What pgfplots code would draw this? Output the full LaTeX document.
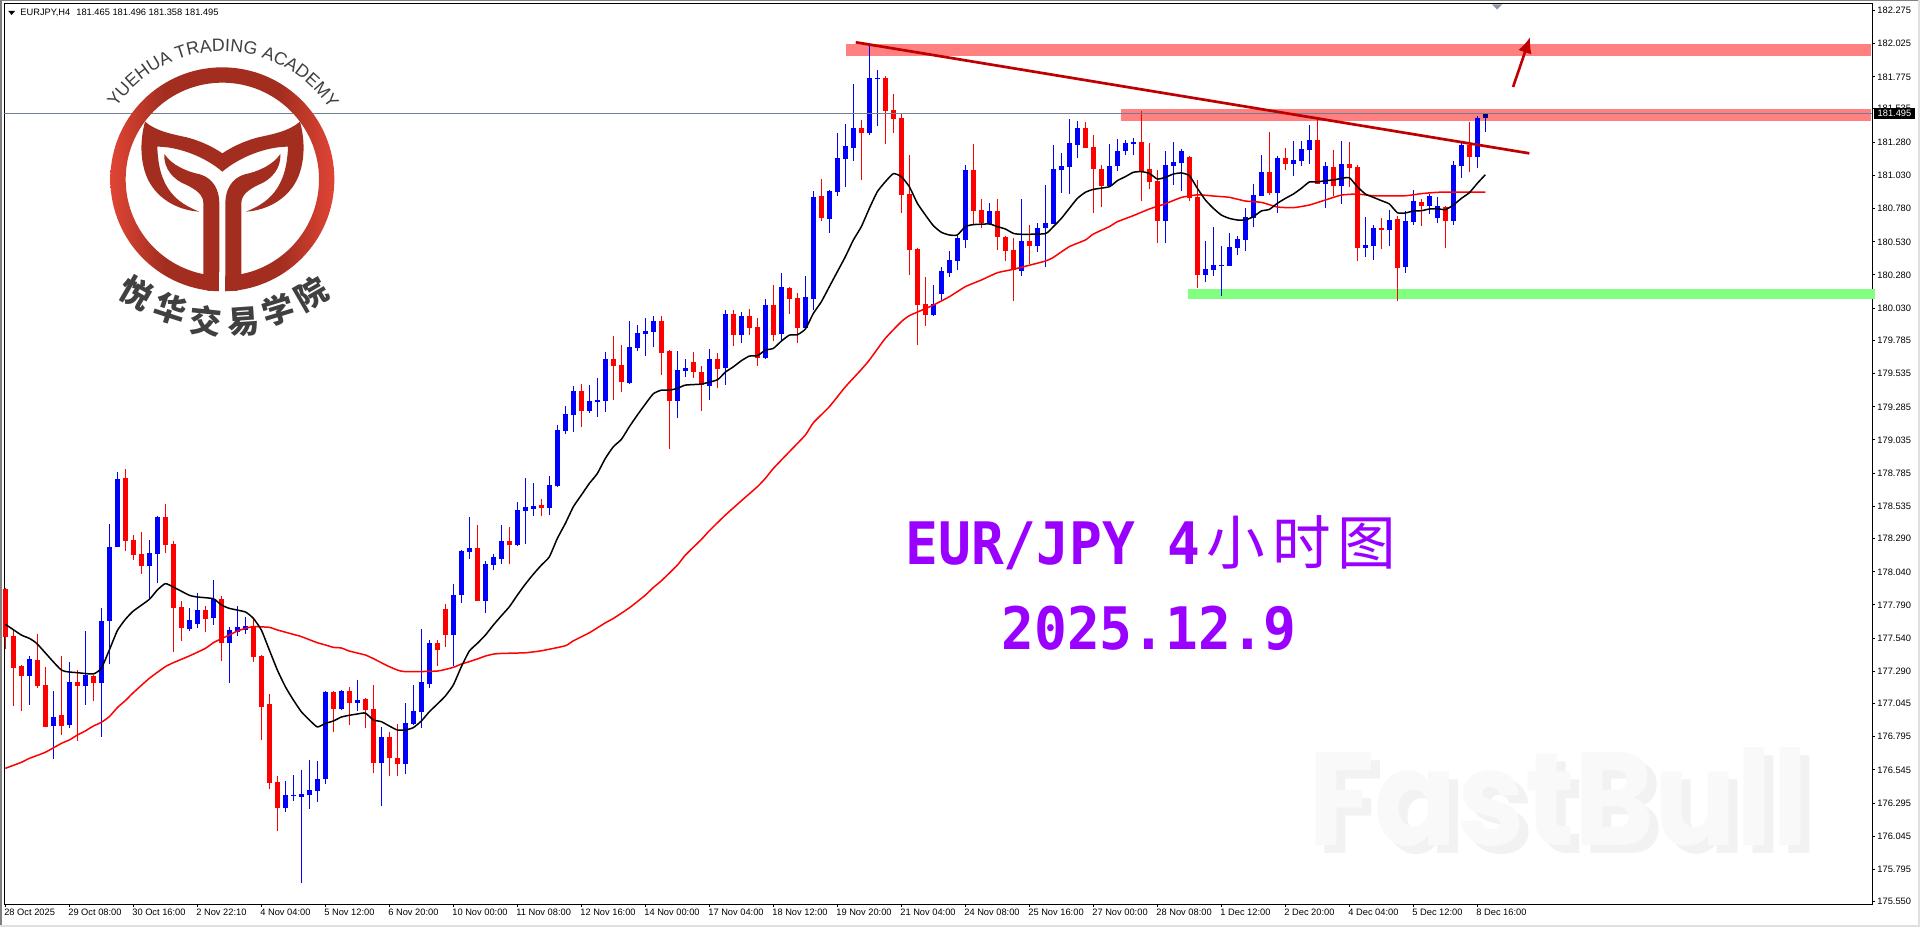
\documentclass[border=0pt]{standalone}
\usepackage{fontspec}
\usepackage{pgfplots}
\usepackage{pgfplotstable}
\pgfplotsset{compat=1.18}
\usetikzlibrary{decorations.text,arrows.meta}
\setmainfont{Liberation Sans}
\newfontfamily\cjk{Noto Sans CJK SC}
\newfontfamily\bigmono[FakeStretch=0.93]{DejaVu Sans Mono}
\newfontfamily\fb[FakeStretch=0.92]{Poppins}
\definecolor{upc}{HTML}{0000FF}
\definecolor{dnc}{HTML}{FF0000}
\definecolor{bandr}{HTML}{FF8080}
\definecolor{bandg}{HTML}{80FF80}
\definecolor{trend}{HTML}{C00000}
\definecolor{pline}{HTML}{708090}
\definecolor{logoD}{HTML}{A32E20}
\definecolor{logoL}{HTML}{E04535}
\definecolor{logoT}{HTML}{404040}
\definecolor{purp}{HTML}{9900FF}
\definecolor{navyc}{HTML}{000080}
\pgfdeclarehorizontalshading{logoring}{100bp}{color(0bp)=(logoL); color(25bp)=(logoL); color(37bp)=(logoD); color(63bp)=(logoD); color(75bp)=(logoL); color(100bp)=(logoL)}

\pgfplotstableread{
i o h l c
3 177.256 177.405 177.035 177.382
6 176.879 177.140 176.630 176.944
8 176.884 177.359 176.864 177.208
10 177.178 177.593 177.035 177.261
12 177.203 177.767 176.796 177.669
13 177.669 178.401 177.344 178.227
14 178.227 178.793 178.227 178.741
18 178.084 178.280 177.840 178.182
19 178.175 178.461 177.953 178.454
23 177.608 177.767 177.593 177.676
24 177.646 177.878 177.616 177.752
26 177.691 177.978 177.639 177.835
28 177.503 177.624 177.201 177.601
29 177.586 177.782 177.556 177.624
30 177.601 177.702 177.571 177.631
35 176.257 176.461 176.227 176.355
36 176.348 176.506 176.310 176.355
37 176.340 176.544 175.691 176.363
38 176.355 176.620 176.250 176.393
39 176.386 176.612 176.303 176.476
40 176.476 177.138 176.438 177.133
42 177.005 177.148 176.997 177.140
44 177.050 177.223 176.990 177.073
47 176.597 176.869 176.272 176.793
50 176.589 177.050 176.514 176.899
51 176.891 177.186 176.884 176.990
52 176.982 177.608 176.861 177.208
53 177.193 177.525 177.163 177.503
56 177.563 177.948 177.329 177.865
57 177.865 178.205 177.805 178.197
58 178.190 178.454 178.137 178.220
60 177.819 178.121 177.728 178.098
61 178.090 178.173 178.053 178.151
62 178.136 178.392 178.098 178.272
64 178.241 178.566 178.234 178.506
65 178.498 178.747 178.249 178.528
66 178.513 178.709 178.460 178.536
68 178.521 178.762 178.468 178.694
69 178.687 179.147 178.679 179.109
70 179.102 179.291 179.079 179.230
71 179.223 179.442 179.094 179.404
73 179.253 179.449 179.238 179.328
74 179.321 179.502 179.208 179.336
75 179.328 179.698 179.245 179.645
78 179.464 179.932 179.457 179.736
79 179.728 179.902 179.706 179.842
80 179.834 179.955 179.668 179.857
81 179.849 179.970 179.736 179.932
84 179.328 179.706 179.200 179.562
85 179.555 179.645 179.509 179.577
88 179.442 179.721 179.336 179.645
90 179.577 180.015 179.449 179.985
92 179.826 180.000 179.766 179.970
95 179.653 180.098 179.645 180.053
97 179.834 180.294 179.789 180.189
100 179.879 180.272 179.864 180.113
101 180.099 180.914 180.016 180.868
103 180.702 180.920 180.597 180.914
104 180.906 181.352 180.876 181.163
105 181.155 181.419 180.944 181.253
106 181.238 181.721 181.140 181.389
108 181.352 182.008 181.336 181.767
109 181.759 181.827 181.404 181.767
116 179.978 180.204 179.970 180.061
117 180.136 180.340 180.091 180.310
118 180.295 180.461 180.265 180.393
119 180.385 180.574 180.317 180.559
120 180.544 181.110 180.484 181.072
123 180.665 180.823 180.657 180.763
127 180.310 180.853 180.272 180.536
129 180.499 180.672 180.453 180.635
130 180.635 180.959 180.340 180.672
131 180.665 181.261 180.665 181.080
132 181.072 181.201 180.899 181.102
133 181.095 181.457 180.891 181.276
134 181.261 181.442 181.163 181.389
138 180.952 181.269 180.944 181.102
139 181.102 181.306 181.065 181.216
140 181.216 181.299 181.185 181.276
141 181.269 181.314 181.185 181.284
145 180.687 181.216 180.521 181.110
146 181.102 181.284 180.959 181.133
147 181.125 181.231 180.914 181.216
150 180.280 180.536 180.227 180.325
151 180.317 180.642 180.272 180.355
152 180.348 180.499 180.121 180.355
153 180.348 180.597 180.348 180.491
154 180.483 180.574 180.431 180.551
155 180.544 180.785 180.461 180.717
156 180.710 180.966 180.642 180.883
157 180.876 181.185 180.876 181.057
159 180.899 181.178 180.748 181.163
161 181.117 181.291 181.027 181.148
162 181.140 181.291 181.102 181.231
163 181.223 181.412 181.117 181.299
165 180.966 181.133 180.785 181.102
167 180.951 181.291 180.816 181.117
170 180.483 180.717 180.415 180.506
171 180.499 180.657 180.393 180.634
173 180.619 180.770 180.499 180.695
175 180.340 180.763 180.295 180.687
176 180.680 180.921 180.657 180.838
178 180.800 180.891 180.740 180.876
179 180.710 180.868 180.672 180.800
181 180.687 181.140 180.657 181.110
182 181.102 181.284 181.012 181.261
184 181.170 181.480 181.087 181.465
}\upbars

\pgfplotstableread{
i o h l c
185 181.465 181.496 181.358 181.495
}\lastbar

\pgfplotstableread{
i o h l c
0 177.910 177.920 177.457 177.551
1 177.556 177.601 177.030 177.317
2 177.329 177.335 176.992 177.256
4 177.374 177.571 177.161 177.181
5 177.186 177.319 176.866 176.871
7 176.959 177.405 176.808 176.879
9 177.208 177.299 176.766 177.178
11 177.254 177.261 177.065 177.203
15 178.748 178.816 178.197 178.275
16 178.280 178.318 178.129 178.167
17 178.175 178.341 178.024 178.084
20 178.454 178.552 178.180 178.242
21 178.250 178.273 177.435 177.767
22 177.774 177.817 177.518 177.616
25 177.752 177.782 177.586 177.684
27 177.835 177.858 177.367 177.503
31 177.631 177.689 177.359 177.397
32 177.405 177.410 176.771 177.020
33 177.042 177.118 176.401 176.446
34 176.454 176.499 176.084 176.257
41 177.133 177.140 176.831 177.005
43 177.140 177.171 176.884 177.050
45 177.080 177.085 176.861 176.997
46 177.005 177.186 176.519 176.597
48 176.793 176.831 176.499 176.635
49 176.635 176.891 176.499 176.589
54 177.503 177.525 177.329 177.450
55 177.759 177.797 177.473 177.563
59 178.220 178.393 177.820 177.820
63 178.272 178.377 178.098 178.241
67 178.543 178.589 178.460 178.521
72 179.404 179.457 179.132 179.253
76 179.645 179.819 179.336 179.592
77 179.600 179.751 179.396 179.472
82 179.932 179.970 179.525 179.691
83 179.706 179.711 178.966 179.328
86 179.623 179.698 179.502 179.547
87 179.547 179.592 179.253 179.449
89 179.645 179.691 179.426 179.570
91 179.985 180.015 179.743 179.826
93 179.970 180.023 179.826 179.879
94 179.887 179.955 179.592 179.653
96 180.053 180.204 179.781 179.826
98 180.181 180.189 179.985 180.098
99 180.106 180.143 179.766 179.879
102 180.876 181.004 180.687 180.710
107 181.389 181.450 180.997 181.352
110 181.767 181.782 181.269 181.518
111 181.525 181.646 181.352 181.457
112 181.465 181.503 180.748 180.884
113 180.891 181.185 180.280 180.468
114 180.476 180.480 179.751 180.053
115 180.061 180.265 179.895 179.978
121 181.072 181.269 180.657 180.763
122 180.770 180.853 180.635 180.672
124 180.763 180.853 180.468 180.567
125 180.567 180.575 180.385 180.461
126 180.468 180.559 180.084 180.317
128 180.536 180.657 180.363 180.499
135 181.389 181.435 181.238 181.238
136 181.246 181.336 180.748 181.080
137 181.080 181.110 180.793 180.952
142 181.284 181.518 180.838 181.065
143 181.080 181.276 180.929 180.982
144 180.989 181.072 180.521 180.687
148 181.170 181.175 180.838 180.861
149 180.868 180.997 180.182 180.280
158 181.057 181.359 180.883 180.899
160 181.163 181.238 181.072 181.117
164 181.299 181.457 180.966 180.966
166 181.095 181.223 180.876 180.951
168 181.117 181.284 180.944 181.087
169 181.095 181.110 180.385 180.483
172 180.634 180.710 180.476 180.619
174 180.702 180.725 180.083 180.332
177 180.831 180.853 180.650 180.800
180 180.793 180.800 180.483 180.687
183 181.261 181.434 181.057 181.170
}\dnbars

\pgfplotstableread{
i y
0 177.644
2 177.563
3 177.538
4 177.495
7 177.299
9 177.279
11 177.269
12 177.312
13 177.450
14 177.596
15 177.681
16 177.744
18 177.832
19 177.903
20 177.951
21 177.925
23 177.863
24 177.850
26 177.837
27 177.790
28 177.764
30 177.737
31 177.689
32 177.601
33 177.450
34 177.299
35 177.173
36 177.073
37 176.984
38 176.922
39 176.869
40 176.896
41 176.914
42 176.944
43 176.957
44 176.967
45 176.974
46 176.922
47 176.909
48 176.876
49 176.846
50 176.846
51 176.864
52 176.914
53 176.984
54 177.042
55 177.103
56 177.186
57 177.324
58 177.442
59 177.500
60 177.562
61 177.638
62 177.708
63 177.776
64 177.864
65 177.947
66 178.022
67 178.090
68 178.153
69 178.292
70 178.405
71 178.531
72 178.619
73 178.707
74 178.782
75 178.896
76 178.984
77 179.039
78 179.135
79 179.223
80 179.306
81 179.384
82 179.411
83 179.411
84 179.424
85 179.449
87 179.457
89 179.489
90 179.547
91 179.587
92 179.633
93 179.668
94 179.670
95 179.713
96 179.726
97 179.781
98 179.826
99 179.829
100 179.872
101 179.990
102 180.078
103 180.192
104 180.305
105 180.418
106 180.544
107 180.645
108 180.783
109 180.909
110 180.984
111 181.045
112 181.022
113 180.946
114 180.821
115 180.733
116 180.652
117 180.602
118 180.582
119 180.582
120 180.645
121 180.660
123 180.665
124 180.645
125 180.627
126 180.594
127 180.587
130 180.592
131 180.645
132 180.707
133 180.783
134 180.858
135 180.904
136 180.926
138 180.946
139 180.992
140 181.022
141 181.055
142 181.060
143 181.047
144 181.004
145 181.017
146 181.042
147 181.050
148 181.030
149 180.934
150 180.846
151 180.783
152 180.732
153 180.707
154 180.695
155 180.695
156 180.720
157 180.763
158 180.775
159 180.821
160 180.858
161 180.891
162 180.934
163 180.982
164 180.982
165 180.992
166 180.997
167 181.009
168 181.014
169 180.946
170 180.891
171 180.866
172 180.841
173 180.816
174 180.750
175 180.748
176 180.763
177 180.765
178 180.778
179 180.780
180 180.773
181 180.808
182 180.858
183 180.901
184 180.972
185 181.037
}\maFast

\pgfplotstableread{
i y
0 176.557
2 176.602
3 176.632
5 176.678
7 176.745
8 176.771
9 176.808
10 176.839
11 176.876
12 176.904
13 176.947
14 177.015
15 177.068
16 177.128
18 177.236
20 177.324
21 177.354
23 177.405
25 177.462
26 177.505
27 177.535
28 177.563
29 177.593
30 177.613
31 177.626
33 177.621
34 177.601
36 177.568
37 177.551
39 177.505
40 177.488
41 177.470
42 177.465
43 177.442
45 177.412
46 177.385
47 177.354
48 177.324
49 177.299
50 177.286
54 177.291
56 177.319
57 177.344
58 177.362
59 177.382
60 177.404
61 177.419
62 177.424
65 177.429
67 177.444
70 177.482
71 177.519
73 177.580
75 177.655
76 177.688
78 177.768
80 177.864
81 177.922
82 177.972
84 178.090
85 178.166
87 178.284
88 178.350
90 178.468
92 178.576
94 178.682
95 178.745
96 178.820
98 178.946
100 179.072
101 179.165
103 179.286
105 179.436
107 179.567
108 179.638
110 179.802
112 179.928
113 179.973
115 180.026
116 180.053
118 180.116
120 180.192
122 180.242
124 180.297
126 180.323
130 180.385
131 180.413
133 180.494
135 180.544
136 180.589
138 180.645
139 180.682
141 180.728
143 180.778
145 180.818
147 180.865
149 180.885
151 180.876
153 180.866
155 180.838
157 180.828
159 180.793
161 180.788
163 180.808
165 180.846
167 180.883
169 180.891
171 180.878
175 180.878
177 180.894
179 180.904
181 180.906
185 180.906
}\maSlow

\begin{document}
\begin{tikzpicture}
\path[use as bounding box,fill=white] (0,0) rectangle (960pt,463.5pt);
% window edges
\fill[black!50] (0,0) rectangle (0.8pt,463.5pt);
\fill[black!50] (0,463pt) rectangle (960pt,463.5pt);
\fill[black!12] (958.8pt,0) rectangle (960pt,463.5pt);
\fill[black!12] (0,0) rectangle (960pt,1.2pt);

% FastBull watermark
\begin{scope}[x=0.5pt,y=-0.5pt,yshift=463.5pt]
\node[anchor=base west,inner sep=0pt,text=black!5,font={\fb\bfseries\fontsize{66pt}{66pt}\selectfont}] at (1317,853) {FastBull};
\node[anchor=base west,inner sep=0pt,text=black!2.5,font={\fb\bfseries\fontsize{66pt}{66pt}\selectfont}] at (1308,845) {FastBull};
\end{scope}

\begin{axis}[
  at={(2pt,11.5pt)},anchor=south west,
  scale only axis,width=934pt,height=450pt,
  xmin=-0.166,xmax=233.33,ymin=175.533,ymax=182.325,
  clip=false,
  axis line style={line width=0.5pt,black},
  tick style={line width=0.5pt,black},
  tick align=outside,major tick length=1.5pt,
  xtick pos=bottom,ytick pos=right,yticklabel pos=right,
  xtick={0,8,...,184},
  xticklabels={28 Oct 2025,29 Oct 08:00,30 Oct 16:00,2 Nov 22:10,4 Nov 04:00,5 Nov 12:00,6 Nov 20:00,10 Nov 00:00,11 Nov 08:00,12 Nov 16:00,14 Nov 00:00,17 Nov 04:00,18 Nov 12:00,19 Nov 20:00,21 Nov 04:00,24 Nov 08:00,25 Nov 16:00,27 Nov 00:00,28 Nov 08:00,1 Dec 12:00,2 Dec 20:00,4 Dec 04:00,5 Dec 12:00,8 Dec 16:00},
  ytick={182.275,182.025,181.775,181.535,181.280,181.030,180.780,180.530,180.280,180.030,179.785,179.535,179.285,179.035,178.785,178.535,178.290,178.040,177.790,177.540,177.290,177.045,176.795,176.545,176.295,176.045,175.795,175.550},
  scaled y ticks=false,
  yticklabel style={/pgf/number format/fixed,/pgf/number format/fixed zerofill,/pgf/number format/precision=3,/pgf/number format/assume math mode=true,font=\fontsize{4.65pt}{5pt}\selectfont,anchor=west,inner sep=0pt,xshift=1pt},
  xticklabel style={font=\fontsize{4.65pt}{5pt}\selectfont,anchor=north west,inner sep=0pt,xshift=-0.7pt,yshift=-1pt},
]
% zones
\addplot[fill=bandr,draw=none,forget plot] coordinates {(105.08,182.023)(233.2,182.023)(233.2,181.933)(105.08,181.933)} -- cycle;
\addplot[fill=bandr,draw=none,forget plot] coordinates {(139.46,181.533)(233.2,181.533)(233.2,181.442)(139.46,181.442)} -- cycle;
\addplot[fill=bandg,draw=none,forget plot] coordinates {(147.8,180.171)(233.7,180.171)(233.7,180.098)(147.8,180.098)} -- cycle;
% wicks
\addplot[draw=none,mark=none,forget plot,error bars/.cd,y dir=plus,y explicit,error mark=none,error bar style={line width=0.5pt,draw=upc}] table[x=i,y=l,y error plus expr=\thisrow{h}-\thisrow{l}] {\upbars};
\addplot[draw=none,mark=none,forget plot,error bars/.cd,y dir=plus,y explicit,error mark=none,error bar style={line width=0.5pt,draw=dnc}] table[x=i,y=l,y error plus expr=\thisrow{h}-\thisrow{l}] {\dnbars};
\addplot[draw=none,mark=none,forget plot,error bars/.cd,y dir=plus,y explicit,error mark=none,error bar style={line width=0.5pt,draw=upc}] table[x=i,y=l,y error plus expr=\thisrow{h}-\thisrow{l}] {\lastbar};
% bodies
\addplot[draw=none,mark=none,forget plot,error bars/.cd,y dir=plus,y explicit,error mark=none,error bar style={line width=2.5pt,draw=upc}] table[x=i,y=o,y error plus expr=\thisrow{c}-\thisrow{o}] {\upbars};
\addplot[draw=none,mark=none,forget plot,error bars/.cd,y dir=plus,y explicit,error mark=none,error bar style={line width=2.5pt,draw=dnc}] table[x=i,y=c,y error plus expr=\thisrow{o}-\thisrow{c}] {\dnbars};
\addplot[draw=none,mark=none,forget plot,error bars/.cd,y dir=plus,y explicit,error mark=none,error bar style={line width=2.5pt,draw=navyc}] table[x=i,y=o,y error plus expr=\thisrow{c}-\thisrow{o}] {\lastbar};
% moving averages
\addplot[dnc,line width=0.75pt,line join=round,smooth,tension=0.3,forget plot] table[x=i,y=y] {\maSlow};
\addplot[black,line width=0.75pt,line join=round,smooth,tension=0.3,forget plot] table[x=i,y=y] {\maFast};
% current price line
\addplot[pline,line width=0.5pt,forget plot] coordinates {(-0.166,181.495)(233.33,181.495)};
% trend line and arrow
\addplot[trend,line width=1.35pt,forget plot] coordinates {(106.3,182.036)(190.5,181.198)};
\draw[trend,line width=1.3pt,-{Latex[length=8pt,width=7pt]}] (axis cs:188.46,181.699) -- (axis cs:190.6,182.076);
\end{axis}

\begin{scope}[x=0.5pt,y=-0.5pt,yshift=463.5pt]
% separator marker at top
\fill[pline!80] (1492,4.5) -- (1502,4.5) -- (1497,9.5) -- cycle;
% last price tag
\fill[black] (1874,108) rectangle (1915,119.5);
\node[text=white,inner sep=0pt,font=\fontsize{4.65pt}{5pt}\selectfont] at (1894.5,113.7) {181.495};
% header
\fill[black] (8.3,11) -- (15,11) -- (11.6,15) -- cycle;
\node[anchor=west,inner sep=0pt,font=\fontsize{4.65pt}{5pt}\selectfont] at (20,12.5) {EURJPY,H4\hspace{1.7pt} 181.465 181.496 181.358 181.495};
% title text
\node[anchor=base west,inner sep=0pt,text=purp,font={\fontsize{29.3pt}{30pt}\selectfont}] at (905,564) {{\bigmono\bfseries EUR/JPY 4}\kern3pt{\cjk 小\kern3.5pt 时\kern3.5pt 图}};
\node[anchor=base west,inner sep=0pt,text=purp,font={\bigmono\bfseries\fontsize{29.3pt}{30pt}\selectfont}] at (1001,649) {2025.12.9};
\end{scope}

% logo, in the coordinates of a 3x crop
\begin{scope}[x=0.16667pt,y=-0.16667pt,yshift=463.5pt]
\shade[even odd rule,shading=logoring]
  (667,538) circle[radius=336] (667,538) circle[radius=290];
\fill[logoD] (435,365) .. controls (470,395) and (520,403) .. (560,412)
  .. controls (610,425) and (645,445) .. (667,460)
  .. controls (690,445) and (725,425) .. (775,412)
  .. controls (815,403) and (865,395) .. (900,365)
  .. controls (915,420) and (915,480) .. (895,530)
  .. controls (870,590) and (810,630) .. (738,635)
  .. controls (800,610) and (860,570) .. (864,440)
  .. controls (800,440) and (720,470) .. (667,515)
  .. controls (615,470) and (535,440) .. (472,440)
  .. controls (475,570) and (535,610) .. (598,635)
  .. controls (525,630) and (465,590) .. (440,530)
  .. controls (420,480) and (420,420) .. (435,365) -- cycle;
\fill[logoD] (493,462) .. controls (515,495) and (560,515) .. (600,523)
  .. controls (640,535) and (658,570) .. (658,610) -- (658,845)
  .. controls (658,860) and (640,873) .. (625,873) -- (600,860) -- (610,822) -- (610,610)
  .. controls (610,585) and (590,570) .. (560,555)
  .. controls (520,540) and (490,505) .. (493,462) -- cycle;
\fill[logoD] (841,462) .. controls (819,495) and (774,515) .. (734,523)
  .. controls (694,535) and (676,570) .. (676,610) -- (676,845)
  .. controls (676,860) and (694,873) .. (709,873) -- (734,860) -- (724,822) -- (724,610)
  .. controls (724,585) and (744,570) .. (774,555)
  .. controls (814,540) and (844,505) .. (841,462) -- cycle;
\fill[white] (658,815) rectangle (676,880);
\begin{scope}[font={\cjk\bfseries\fontsize{16pt}{16pt}\selectfont},text=logoT]
\node[rotate=-30,inner sep=0pt] at (410,878) {悦};
\node[rotate=-18,inner sep=0pt] at (510,925) {华};
\node[rotate=-6,inner sep=0pt] at (617,963) {交};
\node[rotate=4,inner sep=0pt] at (730,965) {易};
\node[rotate=17,inner sep=0pt] at (835,930) {学};
\node[rotate=30,inner sep=0pt] at (935,880) {院};
\end{scope}
\end{scope}
\path[decorate,decoration={text along path,text align=center,
   text={|\color{logoT}\fontsize{8.9pt}{10pt}\selectfont|YUEHUA TRADING ACADEMY}}]
  (111.17pt,373.83pt) ++(155:64pt) arc[start angle=155,end angle=24,radius=64pt];
\end{tikzpicture}
\end{document}
